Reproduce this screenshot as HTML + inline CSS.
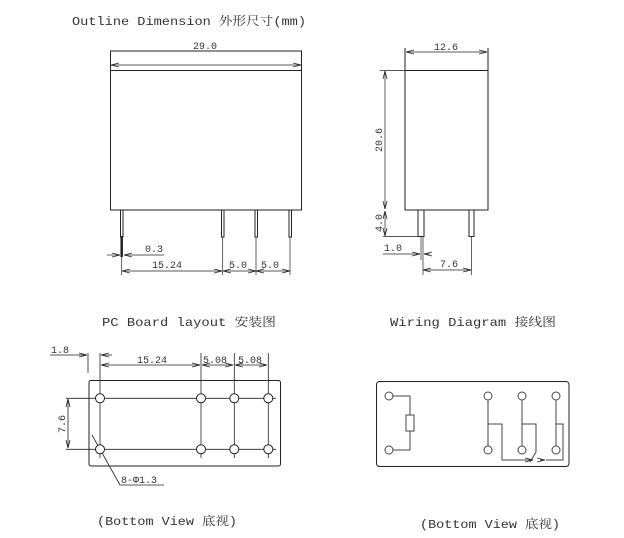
<!DOCTYPE html>
<html><head><meta charset="utf-8"><style>
html,body{margin:0;padding:0;background:#fff;width:624px;height:538px;overflow:hidden}
svg{display:block}
text{font-family:"Liberation Mono","Noto Serif CJK SC",monospace;fill:#333}
</style></head><body>
<svg width="624" height="538" viewBox="0 0 624 538" xmlns="http://www.w3.org/2000/svg">
<defs>
<marker id="a" markerWidth="8" markerHeight="6" refX="8" refY="3" orient="auto-start-reverse" markerUnits="userSpaceOnUse"><path d="M0,1 L8,3 L0,5" fill="none" stroke="#222" stroke-width="0.8"/></marker>
</defs>
<g stroke="#222" fill="none" stroke-width="1">
<!-- front view -->
<rect x="110.5" y="51" width="191" height="159"/>
<line x1="110.5" y1="70.5" x2="301.5" y2="70.5"/>
<line x1="111" y1="65" x2="301" y2="65" marker-start="url(#a)" marker-end="url(#a)" stroke-width="0.7"/>
<rect x="120.5" y="210" width="2.5" height="27"/>
<line x1="121.7" y1="237" x2="121.7" y2="275" stroke-width="0.7"/>
<line x1="121.7" y1="236" x2="121.7" y2="257" stroke-width="2.5"/>
<rect x="221.5" y="210" width="2.5" height="27"/>
<rect x="255" y="210" width="2.5" height="27"/>
<rect x="289" y="210" width="2.5" height="27"/>
<line x1="222.7" y1="237" x2="222.7" y2="275" stroke-width="0.7"/>
<line x1="256" y1="237" x2="256" y2="275" stroke-width="0.7"/>
<line x1="290" y1="237" x2="290" y2="275" stroke-width="0.7"/>
<line x1="107" y1="255" x2="120" y2="255" marker-end="url(#a)" stroke-width="0.7"/>
<line x1="164" y1="255" x2="124" y2="255" marker-end="url(#a)" stroke-width="0.7"/>
<line x1="122" y1="271" x2="222" y2="271" marker-start="url(#a)" marker-end="url(#a)" stroke-width="0.7"/>
<line x1="223" y1="271" x2="256" y2="271" marker-start="url(#a)" marker-end="url(#a)" stroke-width="0.7"/>
<line x1="256" y1="271" x2="290" y2="271" marker-start="url(#a)" marker-end="url(#a)" stroke-width="0.7"/>
<!-- side view -->
<rect x="405" y="70.5" width="83" height="139.5"/>
<line x1="405" y1="48" x2="405" y2="70"/>
<line x1="488" y1="48" x2="488" y2="70"/>
<line x1="406" y1="52" x2="487" y2="52" marker-start="url(#a)" marker-end="url(#a)" stroke-width="0.7"/>
<line x1="380" y1="70.5" x2="405" y2="70.5" stroke-width="0.7"/>
<line x1="385" y1="71" x2="385" y2="209" marker-start="url(#a)" marker-end="url(#a)" stroke-width="0.7"/>
<line x1="385" y1="211" x2="385" y2="236" marker-start="url(#a)" marker-end="url(#a)" stroke-width="0.7"/>
<line x1="383" y1="236.5" x2="424" y2="236.5" stroke-width="0.7"/>
<rect x="418" y="210" width="6" height="26.5"/>
<rect x="469" y="210" width="5" height="26.5"/>
<line x1="421" y1="237" x2="421" y2="260" stroke-width="0.7"/>
<line x1="423" y1="237" x2="423" y2="275" stroke-width="0.7"/>
<line x1="471.5" y1="237" x2="471.5" y2="275" stroke-width="0.7"/>
<line x1="383" y1="254" x2="420" y2="254" marker-end="url(#a)" stroke-width="0.7"/>
<line x1="430" y1="254" x2="424" y2="254" marker-end="url(#a)" stroke-width="0.7"/>
<line x1="423" y1="270" x2="471" y2="270" marker-start="url(#a)" marker-end="url(#a)" stroke-width="0.7"/>
<!-- PC board -->
<rect x="89" y="380.5" width="191.5" height="85.5" rx="2"/>
<g stroke-width="0.8">
<line x1="100" y1="353" x2="100" y2="458"/>
<line x1="201" y1="353" x2="201" y2="458"/>
<line x1="234.3" y1="353" x2="234.3" y2="458"/>
<line x1="268.3" y1="353" x2="268.3" y2="458"/>
<line x1="66" y1="398.3" x2="276" y2="398.3"/>
<line x1="66" y1="449.3" x2="276" y2="449.3"/>
<line x1="88" y1="353" x2="88" y2="373"/>
<line x1="50" y1="355" x2="84" y2="355"/>
<line x1="79" y1="355" x2="87" y2="355" marker-end="url(#a)"/>
<line x1="112" y1="355" x2="101" y2="355" marker-end="url(#a)"/>
<line x1="101" y1="365" x2="200" y2="365" marker-start="url(#a)" marker-end="url(#a)"/>
<line x1="202" y1="365" x2="233" y2="365" marker-start="url(#a)" marker-end="url(#a)"/>
<line x1="235" y1="365" x2="267" y2="365" marker-start="url(#a)" marker-end="url(#a)"/>
<line x1="68" y1="399" x2="68" y2="448" marker-start="url(#a)" marker-end="url(#a)"/>
<line x1="92" y1="435" x2="120" y2="485"/>
<line x1="120" y1="485" x2="164" y2="485"/>
</g>
<g fill="#fff">
<circle cx="100" cy="398.3" r="4.5"/><circle cx="201" cy="398.3" r="4.5"/><circle cx="234.3" cy="398.3" r="4.5"/><circle cx="268.3" cy="398.3" r="4.5"/>
<circle cx="100" cy="449.3" r="4.5"/><circle cx="201" cy="449.3" r="4.5"/><circle cx="234.3" cy="449.3" r="4.5"/><circle cx="268.3" cy="449.3" r="4.5"/>
</g>
<!-- wiring -->
<rect x="376.5" y="381.5" width="192.5" height="85" rx="3"/>
<g stroke="#444">
<polyline points="393,396 410,396 410,415"/>
<rect x="406" y="415" width="8" height="16"/>
<polyline points="410,431 410,450 393,450"/>
<line x1="488" y1="400" x2="488" y2="446"/>
<polyline points="488,424 502,424 502,460 533,460"/>
<line x1="522" y1="400" x2="522" y2="446"/>
<polyline points="522,424 536,424 536,452 530,462"/>
<line x1="556" y1="400" x2="556" y2="446"/>
<polyline points="556,424 563,424 563,460 546,460"/>
<line x1="540" y1="460" x2="545" y2="460" marker-end="url(#a)"/>
<line x1="528" y1="460" x2="533" y2="460" marker-end="url(#a)"/>
</g>
<g fill="#fff" stroke="#444">
<circle cx="389" cy="396" r="4"/><circle cx="389" cy="450" r="4"/>
<circle cx="488" cy="396" r="4"/><circle cx="522" cy="396" r="4"/><circle cx="556" cy="396" r="4"/>
<circle cx="488" cy="450" r="4"/><circle cx="522" cy="450" r="4"/><circle cx="556" cy="450" r="4"/>
</g>
</g>
<g font-size="12">
<text x="72" y="25" textLength="234" lengthAdjust="spacingAndGlyphs">Outline Dimension 外形尺寸(mm)</text>
<text x="205" y="49" font-size="10" text-anchor="middle">29.0</text>
<text x="145" y="252" font-size="10">0.3</text>
<text x="152" y="268" font-size="10">15.24</text>
<text x="229" y="268" font-size="10">5.0</text>
<text x="261" y="268" font-size="10">5.0</text>
<text x="446" y="50" font-size="10" text-anchor="middle">12.6</text>
<text x="0" y="0" font-size="10" transform="translate(382,140) rotate(-90)" text-anchor="middle">20.6</text>
<text x="0" y="0" font-size="10" transform="translate(382,223) rotate(-90)" text-anchor="middle">4.0</text>
<text x="384" y="251" font-size="10">1.0</text>
<text x="440" y="267" font-size="10">7.6</text>
<text x="102" y="326" textLength="174" lengthAdjust="spacingAndGlyphs">PC Board layout 安装图</text>
<text x="390" y="326" textLength="166" lengthAdjust="spacingAndGlyphs">Wiring Diagram 接线图</text>
<text x="51" y="353" font-size="10">1.8</text>
<text x="137" y="363" font-size="10">15.24</text>
<text x="203" y="363" font-size="10">5.08</text>
<text x="238" y="363" font-size="10">5.08</text>
<text x="0" y="0" font-size="10" transform="translate(65,424) rotate(-90)" text-anchor="middle">7.6</text>
<text x="121" y="483" font-size="10">8-Φ1.3</text>
<text x="97" y="525" textLength="140" lengthAdjust="spacingAndGlyphs">(Bottom View 底视)</text>
<text x="420" y="528" textLength="140" lengthAdjust="spacingAndGlyphs">(Bottom View 底视)</text>
</g>
</svg>
</body></html>
